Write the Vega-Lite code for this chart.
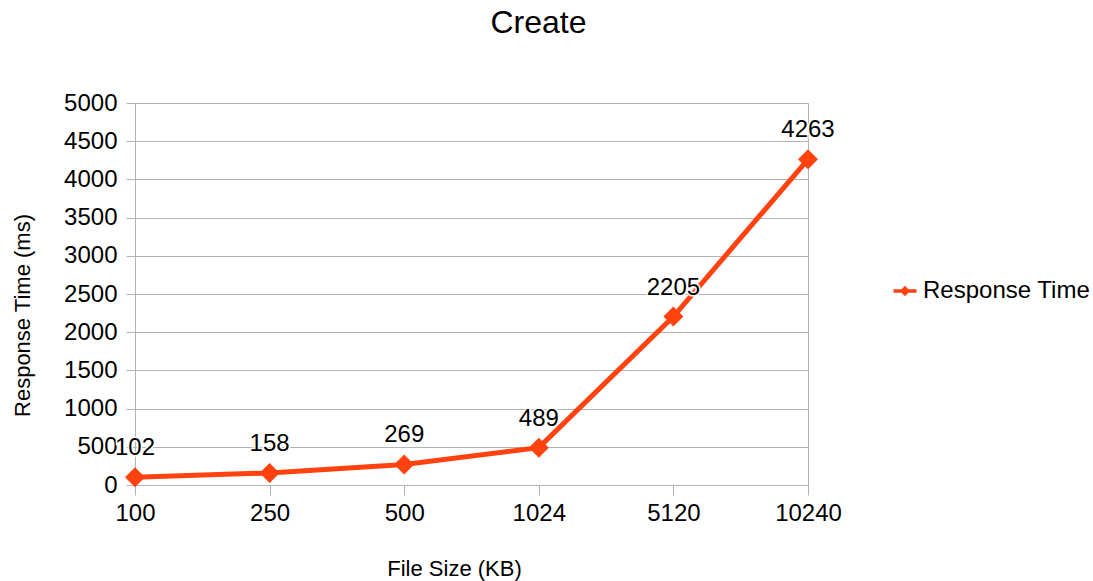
{
  "$schema": "https://vega.github.io/schema/vega-lite/v6.json",
  "width": 673,
  "height": 382,
  "autosize": "none",
  "padding": {"left": 135, "top": 103, "right": 285, "bottom": 96},
  "background": "white",
  "title": {
    "text": "Create",
    "font": "Liberation Sans",
    "fontSize": 32,
    "fontWeight": "normal",
    "color": "black",
    "anchor": "middle",
    "frame": "group",
    "dx": 67,
    "offset": 51
  },
  "config": {
    "view": {"stroke": "#b3b3b3", "strokeWidth": 1},
    "font": "Liberation Sans",
    "axis": {
      "labelFont": "Liberation Sans",
      "titleFont": "Liberation Sans",
      "labelColor": "black",
      "titleColor": "black",
      "titleFontWeight": "normal",
      "domainColor": "#b3b3b3",
      "tickColor": "#b3b3b3",
      "gridColor": "#b3b3b3",
      "gridOpacity": 1
    }
  },
  "data": {
    "values": [
      {"size": "100", "time": 102, "series": "Response Time"},
      {"size": "250", "time": 158, "series": "Response Time"},
      {"size": "500", "time": 269, "series": "Response Time"},
      {"size": "1024", "time": 489, "series": "Response Time"},
      {"size": "5120", "time": 2205, "series": "Response Time"},
      {"size": "10240", "time": 4263, "series": "Response Time"}
    ]
  },
  "encoding": {
    "x": {
      "field": "size",
      "type": "ordinal",
      "sort": null,
      "scale": {"type": "point", "padding": 0},
      "axis": {
        "title": "File Size (KB)",
        "titleFontSize": 22,
        "titleX": 319,
        "titleY": 90,
        "titleBaseline": "alphabetic",
        "labelFontSize": 24,
        "labelAngle": 0,
        "labelPadding": 6,
        "tickSize": 10,
        "grid": false
      }
    },
    "y": {
      "field": "time",
      "type": "quantitative",
      "scale": {"domain": [0, 5000], "nice": false},
      "axis": {
        "title": "Response Time (ms)",
        "titleFontSize": 22,
        "titleAngle": -90,
        "titleX": -106,
        "titleY": 212,
        "titleAlign": "center",
        "titleBaseline": "alphabetic",
        "values": [0, 500, 1000, 1500, 2000, 2500, 3000, 3500, 4000, 4500, 5000],
        "format": "d",
        "labelFontSize": 24,
        "labelPadding": 9,
        "tickSize": 9,
        "grid": true
      }
    }
  },
  "layer": [
    {
      "mark": {"type": "line", "strokeWidth": 5},
      "encoding": {
        "color": {
          "field": "series",
          "type": "nominal",
          "scale": {"range": ["#ff420e"]},
          "legend": {
            "title": null,
            "orient": "none",
            "legendX": 758,
            "legendY": 176,
            "labelFont": "Liberation Sans",
            "labelFontSize": 24,
            "labelColor": "black",
            "labelOffset": 6,
            "labelLimit": 0,
            "symbolType": "M-1,-0.15L-0.3,-0.15L0,-0.45L0.3,-0.15L1,-0.15L1,0.15L0.3,0.15L0,0.45L-0.3,0.15L-1,0.15Z",
            "symbolSize": 529,
            "encode": {
              "symbols": {
                "update": {
                  "fill": {"value": "#ff420e"},
                  "strokeWidth": {"value": 0}
                }
              }
            }
          }
        }
      }
    },
    {
      "mark": {"type": "point", "shape": "diamond", "filled": true, "size": 400, "opacity": 1, "color": "#ff420e"}
    },
    {
      "mark": {"type": "text", "fontSize": 24, "font": "Liberation Sans", "baseline": "alphabetic", "dy": -22, "stroke": "white", "strokeWidth": 3, "strokeJoin": "miter"},
      "encoding": {"text": {"field": "time", "type": "quantitative"}}
    },
    {
      "mark": {"type": "text", "fontSize": 24, "font": "Liberation Sans", "baseline": "alphabetic", "dy": -22, "color": "black"},
      "encoding": {"text": {"field": "time", "type": "quantitative"}}
    }
  ]
}
